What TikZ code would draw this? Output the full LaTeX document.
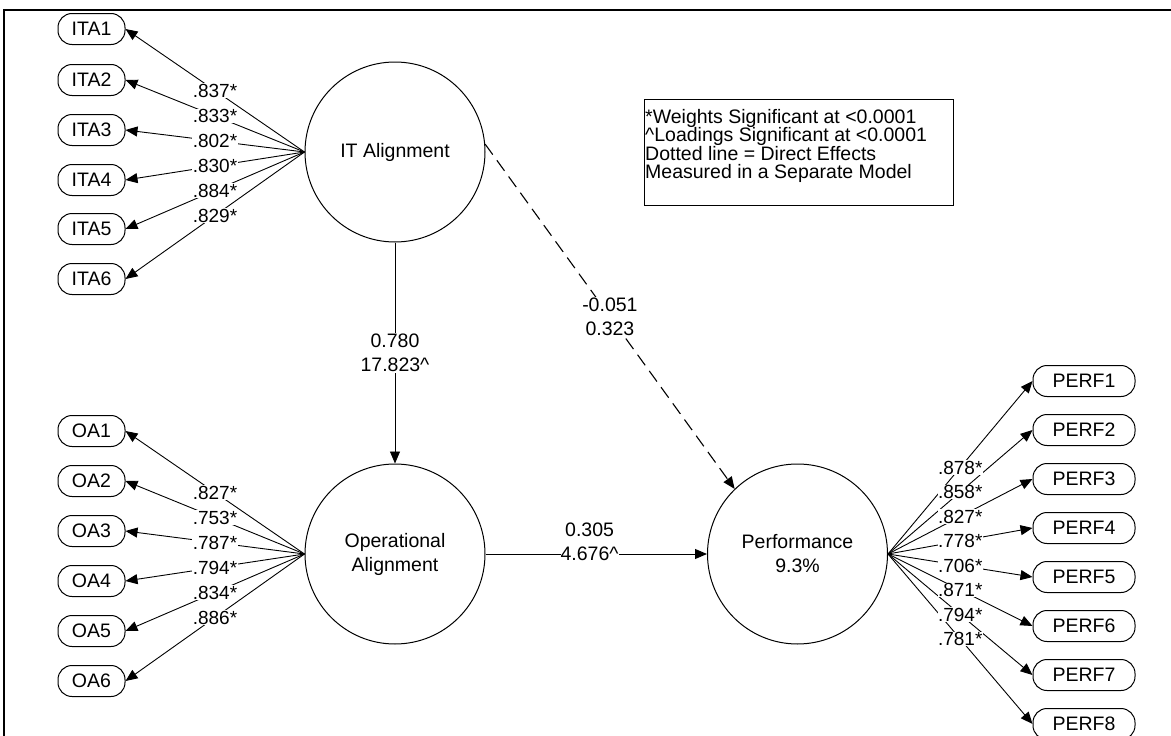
\documentclass[tikz,border=0pt]{standalone}
\usepackage{fontspec}
\setmainfont{Liberation Sans}
\usetikzlibrary{arrows.meta}
\begin{document}
\begin{tikzpicture}[x=1pt,y=-1pt,
  lat/.style={circle, draw, line width=1pt, minimum size=180pt, inner sep=0pt, align=center, font=\fontsize{19.5}{24}\selectfont},
  ind/.style={draw, line width=1pt, rounded corners=14pt, minimum height=31pt, inner sep=0pt, font=\fontsize{19.5}{22}\selectfont},
  itab/.style={ind, minimum width=67pt},
  perfb/.style={ind, minimum width=102pt},
  arr/.style={line width=0.9pt, -{Triangle[length=12pt,width=10pt]}},
  ld/.style={fill=white, inner sep=0.5pt, font=\fontsize{19}{19}\selectfont},
  path lbl/.style={fill=white, inner sep=1pt, align=center, font=\fontsize{19.5}{24}\selectfont},
  legbox/.style={draw, line width=1pt, minimum width=309pt, minimum height=106pt, inner sep=0pt},
  legtxt/.style={inner sep=0pt, align=left, font=\fontsize{19.5}{18.4}\selectfont}
]
\useasboundingbox (0,0) rectangle (1171,736);
\fill[white] (0,0) rectangle (1171,736);
% frame
\draw[line width=2pt] (4,736) -- (4,10) -- (1171,10);

% latent variables
\node[lat] (IT) at (395,152) {IT Alignment};
\node[lat] (OA) at (395,554) {Operational\\Alignment};
\node[lat] (PF) at (797.5,554) {Performance\\9.3\%};

% ITA indicators
\foreach \i/\y in {1/29,2/80,3/130,4/180,5/229,6/279}
  \node[itab] (ITA\i) at (91.5,\y) {ITA\i};
% OA indicators
\foreach \i/\y in {1/431,2/481,3/531,4/581,5/631,6/681}
  \node[itab] (OA\i) at (91.5,\y) {OA\i};
% PERF indicators
\foreach \i/\y in {1/381,2/430,3/479,4/528,5/577,6/626,7/675,8/724}
  \node[perfb] (PERF\i) at (1084,\y) {PERF\i};

% outer loadings lines
\foreach \i in {1,...,6} {
  \draw[arr] (IT.west) -- (ITA\i.east);
  \draw[arr] (OA.west) -- (OA\i.east);
}
\foreach \i in {1,...,8}
  \draw[arr] (PF.east) -- (PERF\i.west);

% loading labels
\foreach \i/\v in {1/.837*,2/.833*,3/.802*,4/.830*,5/.884*,6/.829*}
  \path (IT.west) -- (ITA\i.east) node[ld, pos=0.5] (itl\i) {\v};
\foreach \i/\v in {1/.827*,2/.753*,3/.787*,4/.794*,5/.834*,6/.886*}
  \path (OA.west) -- (OA\i.east) node[ld, pos=0.5] (oal\i) {\v};
\foreach \i/\v in {1/.878*,2/.858*,3/.827*,4/.778*,5/.706*,6/.871*,7/.794*,8/.781*}
  \path (PF.east) -- (PERF\i.west) node[ld, pos=0.5] (pfl\i) {\v};

% structural paths
\draw[arr] (IT.south) -- (OA.north)
  node[path lbl, pos=0.5] (l1) {0.780\\17.823\textasciicircum};
\draw[arr, line width=1.1pt, dash pattern=on 13pt off 7pt] (IT.5) -- (PF.134)
  node[path lbl, pos=0.5] (l2) {-0.051\\0.323};
\draw[arr] (OA.east) -- (PF.west)
  node[path lbl, pos=0.47, yshift=12pt, inner sep=0pt] (l3) {0.305\\4.676\textasciicircum};

% legend
\node[legbox, anchor=north west] (leg) at (644,99) {};
\node[legtxt, anchor=north west] (legt) at (645,109)
  {*Weights Significant at <0.0001\\
   \textasciicircum Loadings Significant at <0.0001\\
   Dotted line = Direct Effects\\
   Measured in a Separate Model};
\end{tikzpicture}
\end{document}
